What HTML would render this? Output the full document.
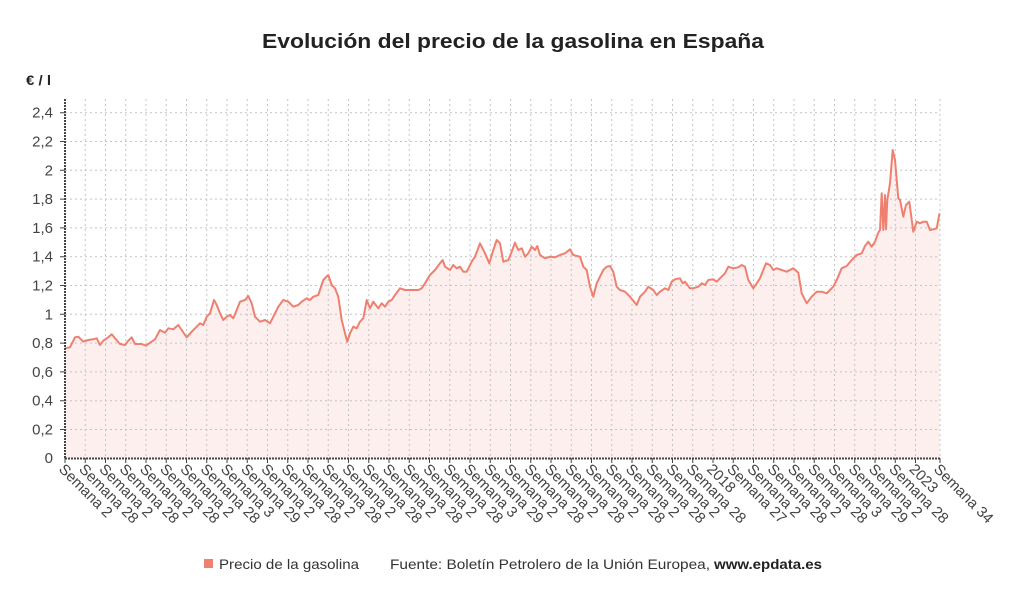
<!DOCTYPE html>
<html><head><meta charset="utf-8">
<style>
html,body{margin:0;padding:0;background:#fff;}
svg{display:block;font-family:"Liberation Sans",sans-serif;}
</style></head><body>
<svg width="1024" height="601" viewBox="0 0 1024 601" xmlns="http://www.w3.org/2000/svg">
<rect width="1024" height="601" fill="#fff"/>
<text x="513" y="48" text-anchor="middle" font-size="20" font-weight="bold" fill="#222" textLength="502" lengthAdjust="spacingAndGlyphs">Evolución del precio de la gasolina en España</text>
<text x="26" y="85" font-size="14" font-weight="bold" fill="#222" textLength="25" lengthAdjust="spacingAndGlyphs">€ / l</text>

<path fill="#fdefed" stroke="none" d="M65,458.3 L65,348.3 L70,347.3 L75,337.3 L78.3,336.7 L83.3,341.7 L88.3,340 L93.3,339.3 L96.7,338.3 L100,345 L103.3,340.7 L108.3,337.3 L111.7,334.3 L115,338.3 L120,344 L125,345 L128.3,340.7 L131.7,337.3 L135,344 L141.7,344 L146,345.7 L150,342.7 L155,339.3 L160,330 L165,332.7 L168.3,328.3 L173.3,329.3 L178.3,325 L181.7,330 L186.7,337.3 L191.7,331.7 L196.7,326.7 L200,323.3 L203.3,325 L206.7,316.7 L210,313.3 L214,300 L216.7,305 L220,313.3 L223.3,320 L226.7,316.7 L230,315 L233.3,318.3 L236.7,310 L240,301.7 L245,300 L248.3,296 L251.7,303.3 L255,316.7 L260,321.7 L265,320 L270,323.3 L273.3,316.7 L278.3,306.7 L283.3,300 L288.3,301.7 L293.3,306.7 L298.3,305 L301.7,301.7 L306.7,298.3 L310,300 L313.3,296.7 L318.3,295 L323.3,280 L328.3,275 L331.7,285 L335,288.3 L338.3,296.7 L341.7,320 L345,333.3 L347.3,341.7 L350,333.3 L353.3,326.7 L356.7,328.3 L360,321.7 L363.3,318.3 L366.7,300 L370,308.3 L373.3,301.7 L378.3,308.3 L381.7,303.3 L385,306.7 L388.3,301.7 L391.7,300 L395,295 L400,288.3 L405,290 L408.3,290 L413.3,290 L418.3,290 L421.7,288.3 L425,283.3 L430,275 L435,270 L440,263.3 L442.7,260 L445,266.7 L450,270 L453.3,265 L456.7,268.3 L460,266.7 L463.3,271.7 L466.7,271.7 L471.7,261.7 L475,256.7 L480,243.3 L485,253.3 L489.3,263.3 L493.3,250 L496.7,240 L500,243.3 L503.3,261.7 L508.3,260 L511.7,251.7 L515,242.7 L518.3,250 L521.7,248.3 L525,256.7 L528.3,253.3 L531.7,246.7 L535,250 L537.3,246 L540,255 L545,258.3 L550,256.7 L555,257.3 L560,255 L565,253.3 L570,249.3 L573.3,255 L580,256.7 L583.3,266.7 L586.7,270 L590,286.7 L593.3,296.7 L596.7,283.3 L600,276.7 L603.3,270 L606.7,266.7 L610,266 L613.3,271.7 L616.7,286.7 L620,290 L625,291.7 L630,296.7 L636.7,305 L640,296.7 L645,291.7 L648.3,286.7 L653.3,290 L656.7,295 L660,291.7 L665,288.3 L668.3,290 L671.7,281.7 L675,279.3 L680,278.3 L682.7,283.3 L685,281.7 L690,288.3 L693.3,288.3 L698.3,286.7 L701.7,283.3 L705,285 L708.3,280 L713.3,279.3 L716.7,281.7 L720,278.3 L725,273.3 L728.3,266.7 L733.3,268.3 L738.3,267.3 L741.7,265 L745,266.7 L748.3,280 L753.3,288.3 L756.7,283.3 L760,278.3 L763.3,270 L766,263.3 L770,265 L773.3,270 L776.7,268.3 L781.7,270 L786.7,271.7 L793.3,268.3 L798.3,272.7 L801.7,293.3 L806.7,303.3 L811.7,296.7 L816.7,291.7 L821.7,291.7 L826.7,293.3 L830,290 L833.3,286.7 L836.7,280 L841.7,268.3 L846.7,266 L851.7,260 L856.7,255 L861.7,253.3 L865,246 L868.3,241.7 L871.7,246.7 L875,241.7 L878.3,232.7 L880,230 L881.7,193.3 L883.3,230 L885,195 L886,229.3 L887.3,200 L890,183.3 L892.7,150 L895,160 L898.3,198.3 L900,200 L903.3,216.7 L906,205 L909.3,201.7 L913.3,231.7 L916.7,221.7 L920,223.3 L923.3,221.7 L926.7,221.7 L930,230 L933.3,229.3 L936.7,228.3 L939.5,213.3 L939.5,458.3 Z"/>

<path stroke="#c4c4c4" stroke-width="1" stroke-dasharray="2,3" fill="none" d="M65,429.5H940M65,400.7H940M65,371.9H940M65,343.1H940M65,314.3H940M65,285.5H940M65,256.7H940M65,227.9H940M65,199.1H940M65,170.3H940M65,141.5H940M65,112.7H940
M85.25,99V458M105.5,99V458M125.75,99V458M146,99V458M166.25,99V458M186.5,99V458M206.75,99V458M227,99V458M247.25,99V458M267.5,99V458M287.75,99V458M308,99V458M328.25,99V458M348.5,99V458M368.75,99V458M389,99V458M409.25,99V458M429.5,99V458M449.75,99V458M470,99V458M490.25,99V458M510.5,99V458M530.75,99V458M551,99V458M571.25,99V458M591.5,99V458M611.75,99V458M632,99V458M652.25,99V458M672.5,99V458M692.75,99V458M713,99V458M733.25,99V458M753.5,99V458M773.75,99V458M794,99V458M814.25,99V458M834.5,99V458M854.75,99V458M875,99V458M895.25,99V458M915.5,99V458M940,99V458"/>

<polyline fill="none" stroke="#ef8070" stroke-width="2" stroke-linejoin="round" points="65,348.3 70,347.3 75,337.3 78.3,336.7 83.3,341.7 88.3,340 93.3,339.3 96.7,338.3 100,345 103.3,340.7 108.3,337.3 111.7,334.3 115,338.3 120,344 125,345 128.3,340.7 131.7,337.3 135,344 141.7,344 146,345.7 150,342.7 155,339.3 160,330 165,332.7 168.3,328.3 173.3,329.3 178.3,325 181.7,330 186.7,337.3 191.7,331.7 196.7,326.7 200,323.3 203.3,325 206.7,316.7 210,313.3 214,300 216.7,305 220,313.3 223.3,320 226.7,316.7 230,315 233.3,318.3 236.7,310 240,301.7 245,300 248.3,296 251.7,303.3 255,316.7 260,321.7 265,320 270,323.3 273.3,316.7 278.3,306.7 283.3,300 288.3,301.7 293.3,306.7 298.3,305 301.7,301.7 306.7,298.3 310,300 313.3,296.7 318.3,295 323.3,280 328.3,275 331.7,285 335,288.3 338.3,296.7 341.7,320 345,333.3 347.3,341.7 350,333.3 353.3,326.7 356.7,328.3 360,321.7 363.3,318.3 366.7,300 370,308.3 373.3,301.7 378.3,308.3 381.7,303.3 385,306.7 388.3,301.7 391.7,300 395,295 400,288.3 405,290 408.3,290 413.3,290 418.3,290 421.7,288.3 425,283.3 430,275 435,270 440,263.3 442.7,260 445,266.7 450,270 453.3,265 456.7,268.3 460,266.7 463.3,271.7 466.7,271.7 471.7,261.7 475,256.7 480,243.3 485,253.3 489.3,263.3 493.3,250 496.7,240 500,243.3 503.3,261.7 508.3,260 511.7,251.7 515,242.7 518.3,250 521.7,248.3 525,256.7 528.3,253.3 531.7,246.7 535,250 537.3,246 540,255 545,258.3 550,256.7 555,257.3 560,255 565,253.3 570,249.3 573.3,255 580,256.7 583.3,266.7 586.7,270 590,286.7 593.3,296.7 596.7,283.3 600,276.7 603.3,270 606.7,266.7 610,266 613.3,271.7 616.7,286.7 620,290 625,291.7 630,296.7 636.7,305 640,296.7 645,291.7 648.3,286.7 653.3,290 656.7,295 660,291.7 665,288.3 668.3,290 671.7,281.7 675,279.3 680,278.3 682.7,283.3 685,281.7 690,288.3 693.3,288.3 698.3,286.7 701.7,283.3 705,285 708.3,280 713.3,279.3 716.7,281.7 720,278.3 725,273.3 728.3,266.7 733.3,268.3 738.3,267.3 741.7,265 745,266.7 748.3,280 753.3,288.3 756.7,283.3 760,278.3 763.3,270 766,263.3 770,265 773.3,270 776.7,268.3 781.7,270 786.7,271.7 793.3,268.3 798.3,272.7 801.7,293.3 806.7,303.3 811.7,296.7 816.7,291.7 821.7,291.7 826.7,293.3 830,290 833.3,286.7 836.7,280 841.7,268.3 846.7,266 851.7,260 856.7,255 861.7,253.3 865,246 868.3,241.7 871.7,246.7 875,241.7 878.3,232.7 880,230 881.7,193.3 883.3,230 885,195 886,229.3 887.3,200 890,183.3 892.7,150 895,160 898.3,198.3 900,200 903.3,216.7 906,205 909.3,201.7 913.3,231.7 916.7,221.7 920,223.3 923.3,221.7 926.7,221.7 930,230 933.3,229.3 936.7,228.3 939.5,213.3"/>

<line x1="65" y1="99" x2="65" y2="458.5" stroke="#444" stroke-width="2" stroke-dasharray="2,1"/>
<line x1="65" y1="458.5" x2="940" y2="458.5" stroke="#444" stroke-width="2" stroke-dasharray="2,1"/>
<path stroke="#444" stroke-width="1" fill="none" d="M65,458V463M85.25,458V463M105.5,458V463M125.75,458V463M146,458V463M166.25,458V463M186.5,458V463M206.75,458V463M227,458V463M247.25,458V463M267.5,458V463M287.75,458V463M308,458V463M328.25,458V463M348.5,458V463M368.75,458V463M389,458V463M409.25,458V463M429.5,458V463M449.75,458V463M470,458V463M490.25,458V463M510.5,458V463M530.75,458V463M551,458V463M571.25,458V463M591.5,458V463M611.75,458V463M632,458V463M652.25,458V463M672.5,458V463M692.75,458V463M713,458V463M733.25,458V463M753.5,458V463M773.75,458V463M794,458V463M814.25,458V463M834.5,458V463M854.75,458V463M875,458V463M895.25,458V463M915.5,458V463M940,458V463
M60,429.5H65M60,400.7H65M60,371.9H65M60,343.1H65M60,314.3H65M60,285.5H65M60,256.7H65M60,227.9H65M60,199.1H65M60,170.3H65M60,141.5H65M60,112.7H65"/>

<g font-size="15" fill="#444" text-anchor="end">
<text x="53" y="463">0</text>
<text x="53" y="434.5">0,2</text>
<text x="53" y="405.7">0,4</text>
<text x="53" y="376.9">0,6</text>
<text x="53" y="348.1">0,8</text>
<text x="53" y="319.3">1</text>
<text x="53" y="290.5">1,2</text>
<text x="53" y="261.7">1,4</text>
<text x="53" y="232.9">1,6</text>
<text x="53" y="204.1">1,8</text>
<text x="53" y="175.3">2</text>
<text x="53" y="146.5">2,2</text>
<text x="53" y="117.7">2,4</text>
</g>

<g font-size="15" fill="#444">
<text transform="translate(58,470) rotate(45)">Semana 2</text>
<text transform="translate(78.25,470) rotate(45)">Semana 28</text>
<text transform="translate(98.5,470) rotate(45)">Semana 2</text>
<text transform="translate(118.75,470) rotate(45)">Semana 28</text>
<text transform="translate(139,470) rotate(45)">Semana 2</text>
<text transform="translate(159.25,470) rotate(45)">Semana 28</text>
<text transform="translate(179.5,470) rotate(45)">Semana 2</text>
<text transform="translate(199.75,470) rotate(45)">Semana 28</text>
<text transform="translate(220,470) rotate(45)">Semana 3</text>
<text transform="translate(240.25,470) rotate(45)">Semana 29</text>
<text transform="translate(260.5,470) rotate(45)">Semana 2</text>
<text transform="translate(280.75,470) rotate(45)">Semana 28</text>
<text transform="translate(301,470) rotate(45)">Semana 2</text>
<text transform="translate(321.25,470) rotate(45)">Semana 28</text>
<text transform="translate(341.5,470) rotate(45)">Semana 2</text>
<text transform="translate(361.75,470) rotate(45)">Semana 28</text>
<text transform="translate(382,470) rotate(45)">Semana 2</text>
<text transform="translate(402.25,470) rotate(45)">Semana 28</text>
<text transform="translate(422.5,470) rotate(45)">Semana 2</text>
<text transform="translate(442.75,470) rotate(45)">Semana 28</text>
<text transform="translate(463,470) rotate(45)">Semana 3</text>
<text transform="translate(483.25,470) rotate(45)">Semana 29</text>
<text transform="translate(503.5,470) rotate(45)">Semana 2</text>
<text transform="translate(523.75,470) rotate(45)">Semana 28</text>
<text transform="translate(544,470) rotate(45)">Semana 2</text>
<text transform="translate(564.25,470) rotate(45)">Semana 28</text>
<text transform="translate(584.5,470) rotate(45)">Semana 2</text>
<text transform="translate(604.75,470) rotate(45)">Semana 28</text>
<text transform="translate(625,470) rotate(45)">Semana 2</text>
<text transform="translate(645.25,470) rotate(45)">Semana 28</text>
<text transform="translate(665.5,470) rotate(45)">Semana 2</text>
<text transform="translate(685.75,470) rotate(45)">Semana 28</text>
<text transform="translate(706,470) rotate(45)">2018</text>
<text transform="translate(726.25,470) rotate(45)">Semana 27</text>
<text transform="translate(746.5,470) rotate(45)">Semana 2</text>
<text transform="translate(766.75,470) rotate(45)">Semana 28</text>
<text transform="translate(787,470) rotate(45)">Semana 2</text>
<text transform="translate(807.25,470) rotate(45)">Semana 28</text>
<text transform="translate(827.5,470) rotate(45)">Semana 3</text>
<text transform="translate(847.75,470) rotate(45)">Semana 29</text>
<text transform="translate(868,470) rotate(45)">Semana 2</text>
<text transform="translate(888.25,470) rotate(45)">Semana 28</text>
<text transform="translate(908.5,470) rotate(45)">2023</text>
<text transform="translate(933,470) rotate(45)">Semana 34</text>
</g>

<rect x="204" y="559" width="9" height="9" fill="#ef8070"/>
<text x="219" y="569" font-size="14" fill="#333" textLength="140" lengthAdjust="spacingAndGlyphs">Precio de la gasolina</text>
<text x="390" y="569" font-size="14" fill="#333" textLength="320" lengthAdjust="spacingAndGlyphs">Fuente: Boletín Petrolero de la Unión Europea,</text>
<text x="714" y="569" font-size="14" font-weight="bold" fill="#222" textLength="108" lengthAdjust="spacingAndGlyphs">www.epdata.es</text>
</svg>
</body></html>
